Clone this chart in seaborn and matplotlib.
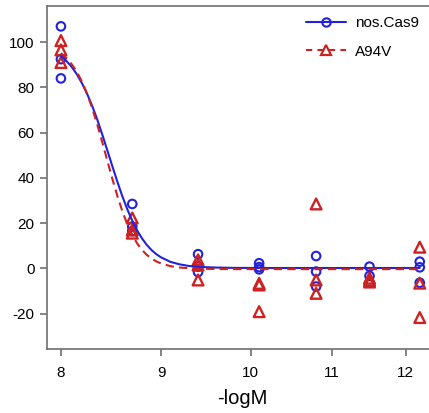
import matplotlib
matplotlib.use("Agg")
import matplotlib.pyplot as plt
from matplotlib.lines import Line2D
import seaborn as sns
import pandas as pd

# measured points (-logM, % response)
cas9_x = [8.0, 8.0, 8.0, 8.7, 8.7, 8.7, 9.4, 9.4, 9.4, 10.1, 10.1, 10.1,
          10.8, 10.8, 10.8, 11.5, 11.5, 11.5, 12.2, 12.2, 12.2]
cas9_y = [107.0, 92.5, 84.0, 28.5, 18.5, 16.5, 6.3, 0.8, -1.6, 2.3, 0.6, -0.4,
          5.5, -1.4, -8.0, 0.8, -3.3, -6.3, 3.0, 0.5, -6.3]
a94v_x = cas9_x
a94v_y = [100.7, 96.6, 91.0, 22.3, 17.0, 15.6, 3.8, 1.5, -5.1, -6.6, -7.3, -19.1,
          28.5, -5.1, -11.0, -4.3, -5.2, -6.0, 9.4, -6.5, -21.7]

# fitted curves
fit_x = [8.0, 8.05, 8.1, 8.15, 8.2, 8.25, 8.3, 8.35, 8.4, 8.45, 8.5, 8.55,
         8.6, 8.65, 8.7, 8.75, 8.8, 8.85, 8.9, 8.95, 9.0, 9.1, 9.2, 9.3,
         9.4, 9.6, 9.8, 10.2, 11.0, 12.2]
cas9_fit_y = [93.9, 91.8, 89.2, 85.9, 81.9, 77.2, 71.8, 65.7, 59.0, 52.0, 45.0, 38.2,
              31.8, 26.1, 21.1, 16.8, 13.3, 10.4, 8.1, 6.3, 4.9, 2.9, 1.8, 1.1,
              0.7, 0.4, 0.25, 0.2, 0.2, 0.2]
a94v_fit_y = [95.2, 93.1, 90.4, 87.0, 82.6, 77.2, 70.8, 63.5, 55.6, 47.4, 39.4, 31.9,
              25.2, 19.5, 14.9, 11.1, 8.2, 6.0, 4.4, 3.1, 2.2, 1.0, 0.4, 0.1,
              -0.1, -0.25, -0.3, -0.3, -0.3, -0.3]

blue = "#2222dd"
red = "#cc2222"

pts = pd.DataFrame({"x": cas9_x + a94v_x, "y": cas9_y + a94v_y,
                    "grp": ["nos.Cas9"] * len(cas9_x) + ["A94V"] * len(a94v_x)})
fits = pd.DataFrame({"x": fit_x + fit_x, "y": cas9_fit_y + a94v_fit_y,
                     "grp": ["nos.Cas9"] * len(fit_x) + ["A94V"] * len(fit_x)})

sns.set_style("white")
plt.rcParams["font.family"] = ["Liberation Sans", "DejaVu Sans"]
plt.rcParams["axes.unicode_minus"] = False
plt.rcParams["text.color"] = "black"
plt.rcParams["axes.labelcolor"] = "black"

fig = plt.figure(figsize=(4.29, 4.13), dpi=100)
ax = fig.add_axes([47 / 429, 64 / 413, 390 / 429, 343 / 413])

sns.scatterplot(data=pts[pts.grp == "nos.Cas9"], x="x", y="y", ax=ax, marker="o", s=38,
                facecolors="none", edgecolor=blue, linewidth=1.5, zorder=3)
sns.scatterplot(data=pts[pts.grp == "A94V"], x="x", y="y", ax=ax, marker="^", s=60,
                facecolors="none", edgecolor=red, linewidth=1.7, zorder=3)
sns.lineplot(data=fits[fits.grp == "nos.Cas9"], x="x", y="y", ax=ax,
             color=blue, linewidth=1.5, sort=False, zorder=4)
sns.lineplot(data=fits[fits.grp == "A94V"], x="x", y="y", ax=ax,
             color=red, linewidth=1.5, linestyle=(0, (4, 2.5)), sort=False, zorder=5)

ax.set_xscale("log")
ax.set_xlim(7.87, 12.45)
ax.set_ylim(-35.6, 116)
ax.set_xticks([8, 9, 10, 11, 12])
ax.set_xticklabels(["8", "9", "10", "11", "12"])
ax.minorticks_off()
ax.set_yticks([-20, 0, 20, 40, 60, 80, 100])
ax.set_xlabel("-logM", fontsize=14.5, labelpad=7, color="black")
ax.set_ylabel("")

for s in ["left", "bottom", "top"]:
    ax.spines[s].set_color("#707070")
    ax.spines[s].set_linewidth(1.2)
ax.spines["right"].set_visible(False)
ax.tick_params(axis="both", which="major", direction="out", length=5, width=1.2,
               color="#707070", labelcolor="black", labelsize=11, bottom=True, left=True)
ax.tick_params(axis="x", pad=7)
ax.tick_params(axis="y", pad=4)

handles = [
    Line2D([], [], color=blue, lw=1.5, marker="o", markersize=6,
           markerfacecolor="none", markeredgewidth=1.5),
    Line2D([], [], color=red, lw=1.5, linestyle=(0, (3, 2.5)), marker="^",
           markersize=7.5, markerfacecolor="none", markeredgewidth=1.6),
]
ax.legend(handles, ["nos.Cas9", "A94V"], loc="upper left",
          bbox_to_anchor=(0.63, 1.01), frameon=False, fontsize=11,
          handlelength=2.6, handletextpad=0.6, labelspacing=0.95)

fig.savefig("out.png", dpi=100)
